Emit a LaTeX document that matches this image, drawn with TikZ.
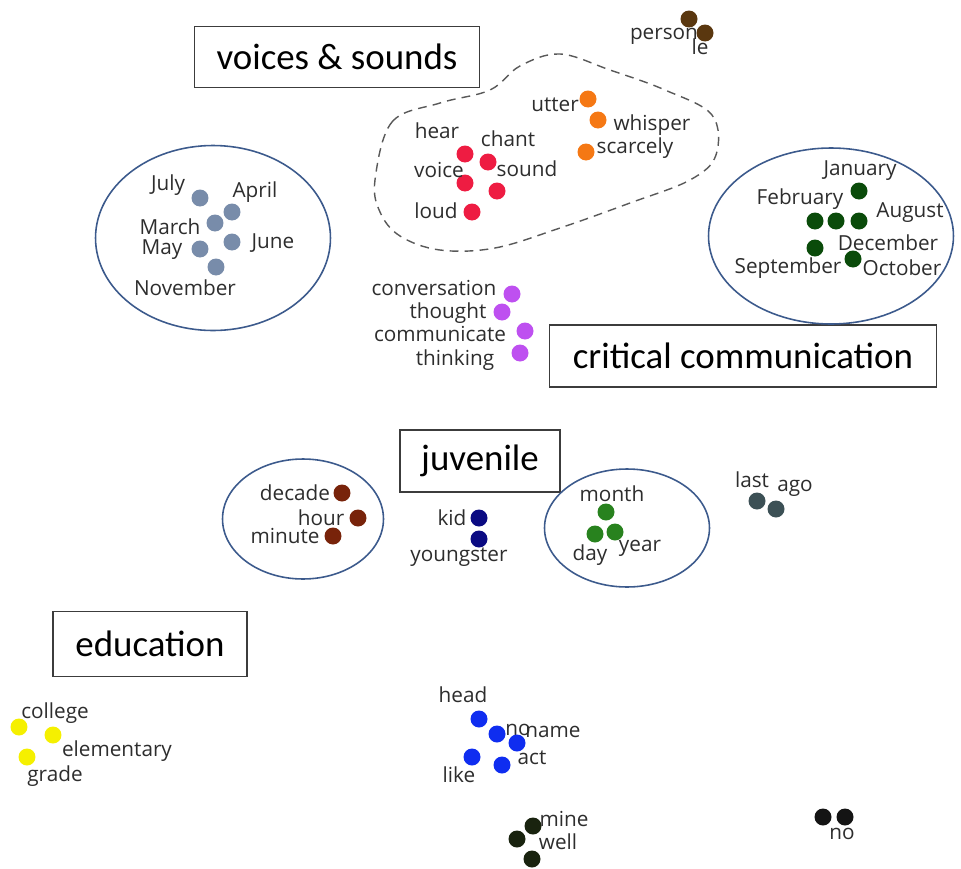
\documentclass[tikz,border=0pt]{standalone}
\usepackage{fontspec}
\setmainfont{Carlito}
\newfontfamily\wordfont{Open Sans}
\usetikzlibrary{shapes.geometric}
\definecolor{vred}{RGB}{238,28,66}
\definecolor{vorange}{RGB}{245,120,20}
\definecolor{pbrown}{RGB}{90,55,15}
\definecolor{mgray}{RGB}{120,140,170}
\definecolor{mgreen}{RGB}{10,75,10}
\definecolor{cpurple}{RGB}{190,80,240}
\definecolor{dbrown}{RGB}{120,35,10}
\definecolor{knavy}{RGB}{10,10,130}
\definecolor{ygreen}{RGB}{40,130,30}
\definecolor{lslate}{RGB}{60,80,85}
\definecolor{eyellow}{RGB}{245,240,0}
\definecolor{hblue}{RGB}{15,45,240}
\definecolor{wdark}{RGB}{25,35,15}
\definecolor{nblack}{RGB}{20,20,20}
\definecolor{ringblue}{RGB}{60,90,140}
\definecolor{boxgray}{RGB}{60,60,60}
\definecolor{wordgray}{RGB}{45,45,45}

\begin{document}
\begin{tikzpicture}
	[x=0.02cm,y=-0.02cm,
	 dot/.style={circle,inner sep=0pt,minimum size=0.34cm},
	 word/.style={inner sep=0pt,text=wordgray,font=\wordfont\fontsize{11.8}{13}\selectfont},
	 title/.style={draw=boxgray,line width=0.9pt,inner sep=0pt,font=\fontsize{21}{24}\selectfont},
	 group/.style={draw=ringblue,line width=0.9pt,ellipse,inner sep=0pt}]
\useasboundingbox (0,0) rectangle (961,869);
% titles
\node[title,minimum width=5.7cm,minimum height=1.22cm] (voices) at (337,57) {voices \& sounds};
\node[title,minimum width=7.74cm,minimum height=1.24cm] (critical) at (743,356) {critical communication};
\node[title,minimum width=3.2cm,minimum height=1.24cm] (juvenile) at (480,461) {juvenile};
\node[title,minimum width=3.88cm,minimum height=1.3cm] (education) at (150,644) {education};
% rings
\node[group,minimum width=4.7cm,minimum height=3.7cm] (months-l) at (213,238) {};
\node[group,minimum width=4.9cm,minimum height=3.52cm] (months-r) at (831,236) {};
\node[group,minimum width=3.22cm,minimum height=2.4cm] (times) at (303,519) {};
\node[group,minimum width=3.3cm,minimum height=2.36cm] (years) at (627,528) {};
% dashed blob round the voices
\draw[boxgray!85,line width=0.8pt,dash pattern=on 5pt off 3.5pt]
  plot[smooth cycle,tension=0.6] coordinates {(375,180) (392,122) (440,103) (490,90) (520,66)
  (560,54) (610,70) (665,90) (712,115) (716,155) (690,180) (630,203) (560,228) (495,248)
  (440,250) (400,236) (380,212)};
% words
\foreach \n/\x/\y/\lx/\ly in {hear/465/154/437/131, chant/488/162/508/139, voice/465/183/439/170,
  sound/497/191/527/169, loud/472/212/436/211}
{\node[dot,fill=vred] (\n) at (\x,\y) {};
 \node[word] (\n-w) at (\lx,\ly) {\n};}
\foreach \n/\x/\y/\lx/\ly in {utter/588/99/555/105, whisper/598/120/652/125, scarcely/586/152/635/148}
{\node[dot,fill=vorange] (\n) at (\x,\y) {};
 \node[word] (\n-w) at (\lx,\ly) {\n};}
\foreach \n/\x/\y/\lx/\ly in {person/689/19/664/36, le/705/33/700/47}
{\node[word] (\n-w) at (\lx,\ly) {\n};
 \node[dot,fill=pbrown] (\n) at (\x,\y) {};}
\foreach \n/\x/\y/\lx/\ly in {July/200/198/168/185, April/232/212/255/192, March/215/223/170/227,
  June/232/242/273/243, May/200/249/162/250, November/216/267/185/288}
{\node[dot,fill=mgray] (\n) at (\x,\y) {};
 \node[word] (\n-w) at (\lx,\ly) {\n};}
\foreach \n/\x/\y/\lx/\ly in {January/859/191/860/171, February/815/221/800/199, December/836/221/888/243,
  August/859/221/910/213, September/815/248/788/268, October/853/259/902/268}
{\node[dot,fill=mgreen] (\n) at (\x,\y) {};
 \node[word] (\n-w) at (\lx,\ly) {\n};}
\foreach \n/\x/\y/\lx/\ly in {conversation/512/294/434/288, thought/502/312/448/313,
  communicate/525/331/440/334, thinking/520/353/455/360}
{\node[dot,fill=cpurple] (\n) at (\x,\y) {};
 \node[word] (\n-w) at (\lx,\ly) {\n};}
\foreach \n/\x/\y/\lx/\ly in {decade/342/493/295/493, hour/358/518/321/518, minute/333/536/285/536}
{\node[dot,fill=dbrown] (\n) at (\x,\y) {};
 \node[word] (\n-w) at (\lx,\ly) {\n};}
\foreach \n/\x/\y/\lx/\ly in {kid/479/518/452/518, youngster/479/539/459/557}
{\node[dot,fill=knavy] (\n) at (\x,\y) {};
 \node[word] (\n-w) at (\lx,\ly) {\n};}
\foreach \n/\x/\y/\lx/\ly in {month/606/512/612/494, day/595/534/590/555, year/615/532/640/548}
{\node[dot,fill=ygreen] (\n) at (\x,\y) {};
 \node[word] (\n-w) at (\lx,\ly) {\n};}
\foreach \n/\x/\y/\lx/\ly in {last/757/501/752/480, ago/776/509/795/488}
{\node[dot,fill=lslate] (\n) at (\x,\y) {};
 \node[word] (\n-w) at (\lx,\ly) {\n};}
\foreach \n/\x/\y/\lx/\ly in {college/19/727/55/713, elementary/53/735/117/751, grade/27/757/55/776}
{\node[dot,fill=eyellow] (\n) at (\x,\y) {};
 \node[word] (\n-w) at (\lx,\ly) {\n};}
\foreach \n/\x/\y/\lx/\ly in {head/479/719/463/695, no/497/734/518/730, name/517/743/553/732,
  like/472/757/459/775, act/502/765/532/758}
{\node[dot,fill=hblue] (\n) at (\x,\y) {};
 \node[word] (\n-w) at (\lx,\ly) {\n};}
\foreach \n/\x/\y/\lx/\ly in {mine/533/826/564/819, well/517/839/558/842}
{\node[dot,fill=wdark] (\n) at (\x,\y) {};
 \node[word] (\n-w) at (\lx,\ly) {\n};}
\node[dot,fill=wdark] (well-low) at (532,859) {};
\node[word] (no-end-w) at (842,834) {no};
\node[dot,fill=nblack] (no-a) at (823,817) {};
\node[dot,fill=nblack] (no-b) at (845,817) {};
\end{tikzpicture}
\end{document}
